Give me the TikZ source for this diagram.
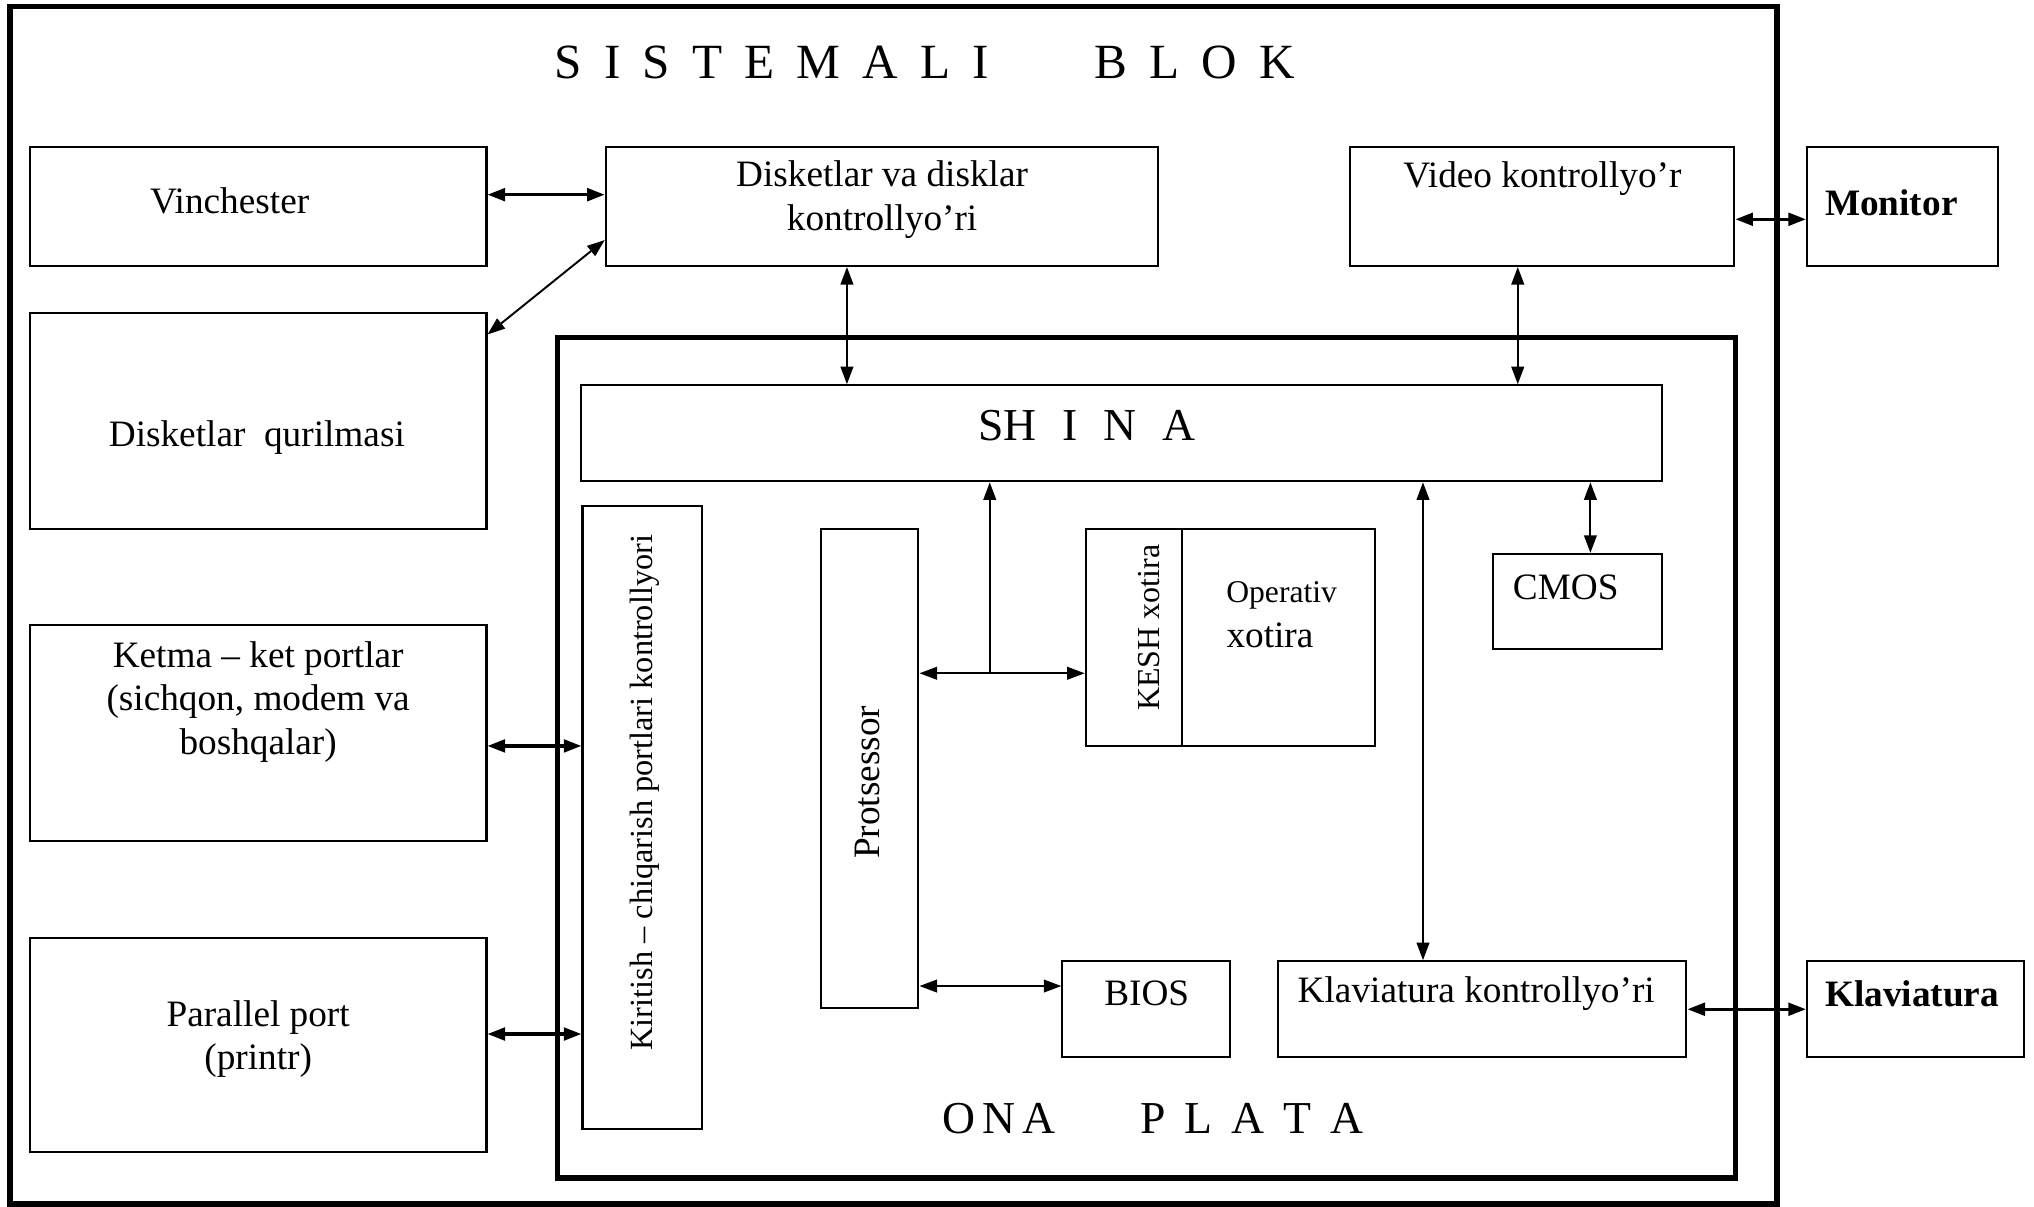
\documentclass[tikz,border=0pt]{standalone}
\usepackage{fontspec}
\setmainfont{Liberation Serif}
\usetikzlibrary{arrows.meta, positioning, fit}

\newcommand{\ltrgap}{\hspace{6.3pt}}
\newcommand{\wordgap}{\hspace{30pt}}

\begin{document}
\begin{tikzpicture}[x=0.012972cm, y=-0.012972cm,
    box/.style={draw, line width=0.6pt, inner sep=0pt},
    frame/.style={draw, line width=1.7pt, inner sep=0pt},
    txt/.style={font=\fontsize{10.6}{12.4}\selectfont, align=center, inner sep=0pt},
    big/.style={font=\fontsize{14}{16}\selectfont, inner sep=0pt},
    link/.style={{Triangle[length=5pt,width=3.6pt]}-{Triangle[length=5pt,width=3.6pt]}, line width=0.55pt},
    wide link/.style={link, line width=0.9pt}]
  \useasboundingbox (0,0) rectangle (1568,930);

  \node[frame, fit={(8,5) (1370,928)}] (blok) {};
  \node[frame, line width=1.5pt, fit={(430,260) (1338,908)}] (plata) {};
  \node[big] (blokname) at (713,48) {S\ltrgap I\ltrgap S\ltrgap T\ltrgap E\ltrgap M\ltrgap A\ltrgap L\ltrgap I\wordgap B\ltrgap L\ltrgap O\ltrgap K};
  \node[big, font=\fontsize{13}{15}\selectfont] (platname) at (889,862) {O\hspace{2pt}N\hspace{2pt}A\hspace{24pt}P\hspace{5.4pt}L\hspace{5.4pt}A\hspace{5.4pt}T\hspace{5.4pt}A};

  \node[box, fit={(23,113) (375,205)}] (vin) {};
  \node[box, fit={(467,113) (893,205)}] (dctl) {};
  \node[box, fit={(1041,113) (1337,205)}] (vctl) {};
  \node[box, fit={(1393,113) (1540,205)}] (mon) {};
  \node[box, fit={(23,241) (375,408)}] (dq) {};
  \node[box, fit={(23,482) (375,648)}] (ketma) {};
  \node[box, fit={(23,723) (375,888)}] (para) {};

  \node[box, fit={(448,297) (1281,371)}] (shina) {};
  \node[box, fit={(449,390) (541,870)}] (kirit) {};
  \node[box, fit={(633,408) (708,777)}] (proc) {};
  \node[box, fit={(837,408) (911,575)}] (kesh) {};
  \node[box, fit={(911,408) (1060,575)}] (opx) {};
  \node[box, fit={(1151,427) (1281,500)}] (cmos) {};
  \node[box, fit={(819,741) (948,815)}] (bios) {};
  \node[box, fit={(985,741) (1300,815)}] (kctl) {};
  \node[box, fit={(1393,741) (1560,815)}] (klav) {};

  \node[txt] (vintext) at (177,155) {Vinchester};
  \node[txt] (dctltext) at (680,154) {Disketlar va disklar\\kontrollyo’ri};
  \node[txt] (vctltext) at (1189,138) {Video kontrollyo’r};
  \node[txt, font=\fontsize{10.6}{12.4}\selectfont\bfseries] (montext) at (1458,156) {Monitor};
  \node[txt] (dqtext) at (198,337) {Disketlar~~qurilmasi};
  \node[txt] (ketmatext) at (199,541) {Ketma – ket portlar\\(sichqon, modem va\\boshqalar)};
  \node[txt] (paratext) at (199,801) {Parallel port\\(printr)};
  \node[big, font=\fontsize{13}{15}\selectfont] (shinatext) at (838,328) {SH\hspace{7.4pt}I\hspace{7.4pt}N\hspace{7.4pt}A};
  \node[txt, rotate=90, font=\fontsize{9.2}{11}\selectfont] (kirittext) at (497,611) {Kiritish – chiqarish portlari kontrollyori};
  \node[txt, rotate=90] (proctext) at (669,603) {Protsessor};
  \node[txt, rotate=90, font=\fontsize{9.1}{11}\selectfont] (keshtext) at (886,484) {KESH xotira};
  \node[txt, font=\fontsize{9}{11}\selectfont] (optext) at (988,459) {Operativ};
  \node[txt] (xotext) at (979,490) {xotira};
  \node[txt] (cmostext) at (1207,453) {CMOS};
  \node[txt] (biostext) at (884,766) {BIOS};
  \node[txt] (kctltext) at (1138,766) {Klaviatura kontrollyo’ri};
  \node[txt, font=\fontsize{10.6}{12.4}\selectfont\bfseries] (klavtext) at (1474,766) {Klaviatura};

  \coordinate (jn) at (763,519);

  \draw[wide link] ([yshift=3.3pt]vin.east) -- ([yshift=3.3pt]dctl.west);
  \draw[link] ([yshift=-6.5pt]dq.north east) -- ([yshift=-9.6pt]dctl.west);
  \draw[link] ([xshift=-10pt]dctl.south) -- ([xshift=-10pt]dctl.south |- shina.north);
  \draw[link] ([xshift=-7pt]vctl.south) -- ([xshift=-7pt]vctl.south |- shina.north);
  \draw[wide link] ([yshift=-3.7pt]vctl.east) -- ([yshift=-3.7pt]mon.west);
  \draw[link] ([xshift=3.7pt]cmos.north) -- ([xshift=3.7pt]cmos.north |- shina.south);
  \draw[link] ([xshift=-16.8pt]kctl.north) -- ([xshift=-16.8pt]kctl.north |- shina.south);
  \draw[link, {Triangle[length=5pt,width=3.6pt]}-] (jn |- shina.south) -- (jn);
  \draw[link] (proc.east |- jn) -- (kesh.west |- jn);
  \draw[link] ([yshift=6.6pt]bios.west -| proc.east) -- ([yshift=6.6pt]bios.west);
  \draw[wide link] ([yshift=-3.7pt]ketma.east) -- ([yshift=-3.7pt]ketma.east -| kirit.west);
  \draw[wide link] ([yshift=3.1pt]para.east) -- ([yshift=3.1pt]para.east -| kirit.west);
  \draw[wide link] (kctl.east) -- (klav.west);
\end{tikzpicture}
\end{document}
